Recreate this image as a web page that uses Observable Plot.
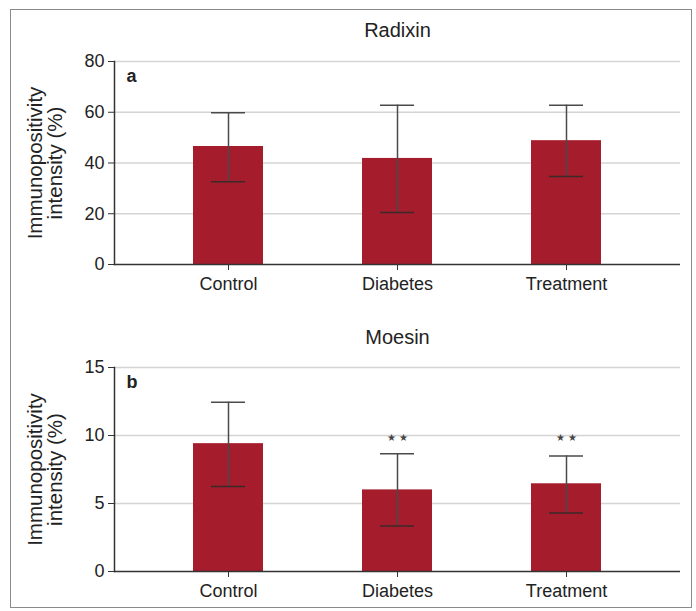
<!DOCTYPE html>
<html>
<head>
<meta charset="utf-8">
<script src="https://cdn.jsdelivr.net/npm/d3@7"></script>
<script src="https://cdn.jsdelivr.net/npm/@observablehq/plot@0.6"></script>
<style>
  html, body { margin: 0; padding: 0; background: #fff; }
  #wrap { position: relative; width: 696px; height: 611px; font-family: "Liberation Sans", Arial, sans-serif; }
  #border { position: absolute; left: 10px; top: 9px; width: 682px; height: 599px; border: 1.5px solid #8a8a8a; box-sizing: border-box; }
  .panel { position: absolute; left: 0; }
  svg { overflow: visible; }
</style>
</head>
<body>
<div id="wrap">
  <div id="border"></div>
  <div class="panel" id="pa" style="top:0px"></div>
  <div class="panel" id="pb" style="top:300px"></div>
</div>
<script>
const categories = ["Control", "Diabetes", "Treatment"];

const radixinMean = [46.5, 41.8, 48.8];
const radixinLow  = [32.6, 20.5, 34.7];
const radixinHigh = [59.8, 62.8, 62.8];
const radixinTicks = [0, 20, 40, 60, 80];

const moesinMean = [9.4, 6.0, 6.45];
const moesinLow  = [6.25, 3.35, 4.3];
const moesinHigh = [12.45, 8.65, 8.5];
const moesinTicks = [0, 5, 10, 15];
const moesinStars = ["", "★ ★", "★ ★"];
const moesinStarLevel = [null, 9.85, 9.85];

const yLabel = "Immunopositivity\nintensity (%)";
const barColor = "#a51c2d";
const inkColor = "#222";

function panel({title, titleY, letter, mean, low, high, ticks, stars, starLevel, height, marginTop, marginBottom}) {
  const data = categories.map((c, i) => ({
    cat: c, mean: mean[i], low: low[i], high: high[i],
    star: stars ? stars[i] : "", starY: starLevel ? starLevel[i] : null
  }));
  const ymax = ticks[ticks.length - 1];
  return Plot.plot({
    width: 696,
    height,
    marginLeft: 114,
    marginRight: 16,
    marginTop,
    marginBottom,
    style: {fontFamily: '"Liberation Sans", Arial, sans-serif', color: inkColor, background: "transparent"},
    x: {domain: categories, paddingInner: 0.588, paddingOuter: 0.46},
    y: {domain: [0, ymax]},
    marks: [
      Plot.gridY(ticks.filter(t => t > 0), {stroke: "#d4d4d4", strokeOpacity: 1, strokeWidth: 1.5}),
      Plot.barY(data, {x: "cat", y: "mean", fill: barColor}),
      Plot.ruleX(data, {x: "cat", y1: "low", y2: "high", stroke: "#4a4a4a", strokeWidth: 1.5}),
      Plot.tickY(data, {x: "cat", y: "high", stroke: "#4a4a4a", strokeWidth: 1.5, insetLeft: 18, insetRight: 18}),
      Plot.tickY(data, {x: "cat", y: "low", stroke: "#3a2a2a", strokeWidth: 1.5, insetLeft: 18, insetRight: 18}),
      Plot.text(data.filter(d => d.star), {x: "cat", y: "starY", text: "star", fontSize: 10, fill: "#444"}),
      Plot.ruleY([0], {stroke: "#333", strokeWidth: 1.5}),
      Plot.frame({anchor: "left", stroke: "#333", strokeWidth: 1.5}),
      Plot.axisY({ticks, tickSize: 6, tickPadding: 4, fontSize: 18, label: null, stroke: "#333"}),
      Plot.axisX({tickSize: 6, tickPadding: 7, fontSize: 18, label: null, stroke: "#333"}),
      Plot.text([title], {frameAnchor: "top", lineAnchor: "middle", dy: titleY - marginTop, fontSize: 20, fill: inkColor}),
      Plot.text([letter], {frameAnchor: "top-left", dx: 12, dy: 8, fontSize: 18, fontWeight: "bold", fill: inkColor}),
      Plot.text([yLabel], {frameAnchor: "left", textAnchor: "middle", lineAnchor: "middle", dx: -69, rotate: -90, fontSize: 20.5, lineHeight: 1.0, fill: inkColor})
    ]
  });
}

document.getElementById("pa").appendChild(panel({
  title: "Radixin", titleY: 30, letter: "a",
  mean: radixinMean, low: radixinLow, high: radixinHigh, ticks: radixinTicks,
  height: 300, marginTop: 61, marginBottom: 36
}));

document.getElementById("pb").appendChild(panel({
  title: "Moesin", titleY: 37, letter: "b",
  mean: moesinMean, low: moesinLow, high: moesinHigh, ticks: moesinTicks,
  stars: moesinStars, starLevel: moesinStarLevel,
  height: 311, marginTop: 67, marginBottom: 40
}));
</script>
</body>
</html>
